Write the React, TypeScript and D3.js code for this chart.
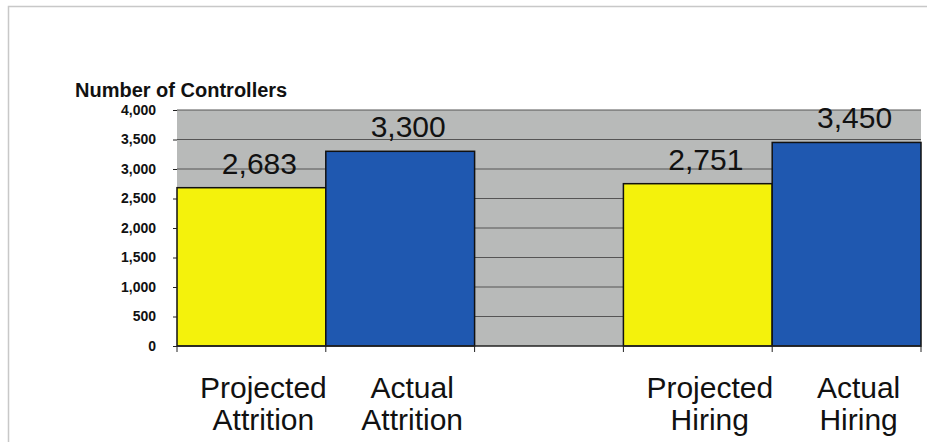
import * as d3 from 'd3'
import { useEffect, useRef } from 'react'

const categories = ['Projected Attrition', 'Actual Attrition', '', 'Projected Hiring', 'Actual Hiring']
const labelLines = [['Projected', 'Attrition'], ['Actual', 'Attrition'], [], ['Projected', 'Hiring'], ['Actual', 'Hiring']]
const values = [2683, 3300, null, 2751, 3450]
const barColors = ['#f4f20c', '#1f58b0', 'none', '#f4f20c', '#1f58b0']
const yTicks = [0, 500, 1000, 1500, 2000, 2500, 3000, 3500, 4000]

export default function App() {
  const svgRef = useRef(null)

  const update = () => {
    const svg = d3.select(svgRef.current)
    svg.selectAll('*').remove()
    const font = 'Liberation Sans, Arial, sans-serif'
    const left = 177, right = 921, top = 110, bottom = 346

    const keys = categories.map((c, i) => i + c)
    const x = d3.scaleBand().domain(keys).range([left, right]).padding(0)
    const y = d3.scaleLinear().domain([0, 4000]).range([bottom, top])
    const items = values.map((v, i) => ({ v, i })).filter(d => d.v !== null) as { v: number, i: number }[]

    // frame
    svg.append('path')
      .attr('d', 'M8.5,442 L8.5,6.5 L927,6.5')
      .attr('fill', 'none').attr('stroke', '#c8c8c8').attr('stroke-width', 1.5)

    // plot background
    svg.append('rect')
      .attr('x', left).attr('y', top).attr('width', right - left).attr('height', bottom - top)
      .attr('fill', '#b8bab9')

    // gridlines
    svg.append('g').selectAll('line').data(yTicks.filter(t => t > 0)).enter().append('line')
      .attr('x1', left).attr('x2', right)
      .attr('y1', d => y(d)).attr('y2', d => y(d))
      .attr('stroke', '#555').attr('stroke-width', 1)

    // bars
    svg.append('g').selectAll('rect').data(items).enter()
      .append('rect')
      .attr('x', d => x(keys[d.i])!)
      .attr('y', d => y(d.v))
      .attr('width', x.bandwidth())
      .attr('height', d => bottom - y(d.v))
      .attr('fill', d => barColors[d.i])
      .attr('stroke', '#111').attr('stroke-width', 1.5)

    // value labels
    svg.append('g').selectAll('text').data(items).enter()
      .append('text')
      .attr('x', d => x(keys[d.i])! + x.bandwidth() / 2 + 8)
      .attr('y', d => y(d.v) - 14)
      .attr('text-anchor', 'middle')
      .style('font-family', font).style('font-size', '30px')
      .attr('fill', '#111')
      .text(d => d3.format(',')(d.v))

    // y axis
    const yAxis = svg.append('g').attr('transform', `translate(${left},0)`)
      .call(d3.axisLeft(y).tickValues(yTicks).tickSize(4).tickFormat(d3.format(',') as any))
    yAxis.select('.domain').remove()
    yAxis.selectAll('text').style('font-family', font).style('font-size', '14px')
      .style('font-weight', 'bold').attr('fill', '#111').attr('x', -21)
    yAxis.selectAll('line').attr('stroke', '#222')

    // x axis
    const bounds = keys.map(k => x(k)!).concat([right])
    svg.append('line').attr('x1', left).attr('x2', right).attr('y1', bottom).attr('y2', bottom)
      .attr('stroke', '#222').attr('stroke-width', 1.5)
    svg.append('g').selectAll('line').data(bounds).enter().append('line')
      .attr('x1', d => d).attr('x2', d => d).attr('y1', bottom).attr('y2', bottom + 6)
      .attr('stroke', '#222')

    // category labels
    const lg = svg.append('g')
    labelLines.forEach((lines, i) => {
      lines.forEach((ln, j) => {
        lg.append('text')
          .attr('x', x(keys[i])! + x.bandwidth() / 2 + 12)
          .attr('y', 398 + j * 32)
          .attr('text-anchor', 'middle')
          .style('font-family', font).style('font-size', '30px')
          .attr('fill', '#111')
          .text(ln)
      })
    })

    // title
    svg.append('text')
      .attr('x', 75).attr('y', 97)
      .style('font-family', font).style('font-size', '20px').style('font-weight', 'bold')
      .attr('fill', '#111')
      .text('Number of Controllers')
  }

  useEffect(() => {
    update()
  })

  return (
    <div style={{ position: 'absolute', left: 0, top: 0, width: 927, height: 442, background: '#fff' }}>
      <svg ref={svgRef} width={927} height={442}></svg>
    </div>
  )
}
